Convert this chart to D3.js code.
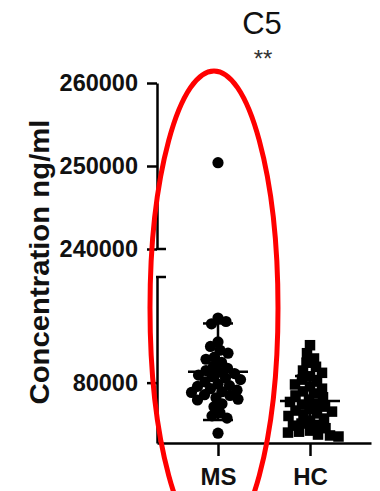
<!DOCTYPE html>
<html>
<head>
<meta charset="utf-8">
<script src="https://cdn.jsdelivr.net/npm/d3@7"></script>
<style>
  html, body { margin: 0; padding: 0; background: #fff; }
  svg { display: block; }
  text { font-family: "Liberation Sans", Arial, sans-serif; }
</style>
</head>
<body>
<svg id="chart" width="380" height="491"></svg>
<script>
// Groups and measured concentrations (ng/ml)
const groups = ["MS", "HC"];
const msValues = [
  250400,
  122800, 120500, 119000, 107000, 104000, 101500, 99500, 97000, 95500,
  93500, 91000, 89500, 88000, 87000, 86000, 85000, 84000, 83000, 82000,
  80500, 79000, 78000, 77500, 76000, 75000, 74000, 73500, 72000, 71500,
  70000, 69000, 68500, 66000, 64000, 60000, 58000, 56500, 46500
];
const hcValues = [
  104800, 99500, 96000, 93200, 90500, 88000, 86500, 84200, 82000, 80700,
  78800, 77500, 76000, 74200, 72800, 71500, 70300, 68800, 67200, 66000,
  65400, 64100, 62500, 61500, 60800, 59600, 58500, 57900, 56200, 54800,
  52900, 52000, 51500, 49800, 48200, 47500, 46900, 45600, 45000, 44300
];
const upperTicks = [240000, 250000, 260000];
const lowerTicks = [80000];
const upperDomain = [240000, 260000];
const lowerDomain = [40000, 150000];
const titleText = "C5";
const sigText = "**";
const yTitle = "Concentration ng/ml";

const svg = d3.select("#chart");

// Broken y axis: two stacked segments
const yUpper = d3.scaleLinear().domain(upperDomain).range([249, 83]);
const yLower = d3.scaleLinear().domain(lowerDomain).range([443, 277]);
const yPos = v => v >= upperDomain[0] ? yUpper(v) : yLower(v);

const x = d3.scalePoint().domain(groups).range([157, 371]).padding(0.663);

const axisStroke = 2.5;
const tickFont = 23.5;

function styleAxis(g) {
  g.selectAll("path.domain").attr("stroke", "#000").attr("stroke-width", axisStroke);
  g.selectAll(".tick line").attr("stroke", "#000").attr("stroke-width", axisStroke);
}

// Upper segment
const gUp = svg.append("g").attr("transform", "translate(157,0)")
  .call(d3.axisLeft(yUpper).tickValues(upperTicks).tickSize(10).tickSizeOuter(0)
    .tickPadding(9).tickFormat(d3.format("d")));
styleAxis(gUp);
gUp.selectAll(".tick text").attr("font-size", tickFont).attr("font-weight", "bold").attr("fill", "#111");

// Lower segment
const gLow = svg.append("g").attr("transform", "translate(157,0)")
  .call(d3.axisLeft(yLower).tickValues(lowerTicks).tickSize(10).tickSizeOuter(0)
    .tickPadding(9).tickFormat(d3.format("d")));
styleAxis(gLow);
gLow.selectAll(".tick text").attr("font-size", tickFont).attr("font-weight", "bold").attr("fill", "#111");

// Break marks at the ends of the gap
svg.append("g").selectAll("line")
  .data([yUpper(upperDomain[0]), yLower(lowerDomain[1])])
  .join("line")
  .attr("x1", 156).attr("x2", 166)
  .attr("y1", d => d).attr("y2", d => d)
  .attr("stroke", "#000").attr("stroke-width", axisStroke);

// X axis
const gx = svg.append("g").attr("transform", `translate(0,${yLower(lowerDomain[0])})`)
  .call(d3.axisBottom(x).tickSize(13).tickSizeOuter(0).tickPadding(12));
styleAxis(gx);
gx.selectAll(".tick text").attr("font-size", 24).attr("font-weight", "bold").attr("fill", "#111");

// Beeswarm layout: place each point as close to the column centre as possible
function swarm(values, cx, minDist) {
  const pts = values.map(v => ({ v, y: yPos(v) })).sort((a, b) => a.y - b.y);
  const placed = [];
  pts.forEach((p, i) => {
    const dir = i % 2 === 0 ? 1 : -1;
    for (let k = 0; k < 200; k += 0.5) {
      let found = false;
      for (const s of (k === 0 ? [0] : [dir * k, -dir * k])) {
        const px = cx + s;
        const ok = placed.every(q => (q.x - px) ** 2 + (q.y - p.y) ** 2 >= minDist * minDist);
        if (ok) { p.x = px; found = true; break; }
      }
      if (found) break;
    }
    placed.push(p);
  });
  return placed;
}

const msPts = swarm(msValues, x("MS"), 8.5);
const hcPts = swarm(hcValues, x("HC"), 8.5);

svg.append("g").selectAll("circle").data(msPts).join("circle")
  .attr("cx", d => d.x).attr("cy", d => d.y).attr("r", 5.6).attr("fill", "#000");

const sq = 10.5;
svg.append("g").selectAll("rect").data(hcPts).join("rect")
  .attr("x", d => d.x - sq / 2).attr("y", d => d.y - sq / 2)
  .attr("width", sq).attr("height", sq).attr("fill", "#000");

// Mean ± SD
function summary(values, name) {
  const m = d3.mean(values), sd = d3.deviation(values);
  const cx = x(name);
  const g = svg.append("g").attr("stroke", "#000").attr("stroke-width", 2.5);
  g.append("line").attr("x1", cx).attr("x2", cx).attr("y1", yPos(m + sd)).attr("y2", yPos(m - sd));
  g.append("line").attr("x1", cx - 30).attr("x2", cx + 30).attr("y1", yPos(m)).attr("y2", yPos(m));
  [m + sd, m - sd].forEach(v => {
    g.append("line").attr("x1", cx - 15).attr("x2", cx + 15).attr("y1", yPos(v)).attr("y2", yPos(v));
  });
}
summary(msValues, "MS");
summary(hcValues, "HC");

// Titles
svg.append("text").attr("x", 262).attr("y", 34).attr("text-anchor", "middle")
  .attr("font-size", 31).attr("fill", "#111").text(titleText);
svg.append("text").attr("x", 263).attr("y", 67).attr("text-anchor", "middle")
  .attr("font-size", 24).attr("fill", "#333").text(sigText);
svg.append("text").attr("transform", "translate(49,262) rotate(-90)")
  .attr("text-anchor", "middle").attr("font-size", 27).attr("font-weight", "bold")
  .attr("textLength", 285).attr("lengthAdjust", "spacingAndGlyphs")
  .attr("fill", "#111").text(yTitle);

// Highlight ellipse around the MS group
svg.append("ellipse")
  .attr("cx", x("MS") - 4).attr("cy", 308).attr("rx", 64).attr("ry", 237)
  .attr("fill", "none").attr("stroke", "#ff0000").attr("stroke-width", 5);
</script>
</body>
</html>
